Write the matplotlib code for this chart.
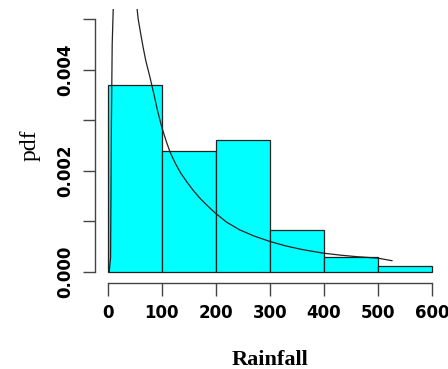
import matplotlib
matplotlib.use('Agg')
import matplotlib.pyplot as plt

# histogram bins (rainfall) and densities
bin_edges = [0, 100, 200, 300, 400, 500, 600]
densities = [0.00370, 0.00239, 0.00261, 0.00083, 0.00030, 0.00012]

# fitted pdf curve
curve_x = [2.4, 4.9, 6.5, 7.9, 9.8, 12,
           52, 56, 60, 65, 70, 77.8, 85, 92, 100, 108, 115, 125, 135, 146, 158, 170, 184, 198,
           220, 244, 270, 300, 330, 360, 398, 430, 460, 500, 526]
curve_y = [0.0, 0.00028, 0.0030, 0.0045, 0.0052, 0.0060,
           0.0054, 0.0050, 0.00475, 0.00445, 0.00418, 0.00385, 0.00352, 0.00318, 0.00285,
           0.00258, 0.00237, 0.00214, 0.00195, 0.00178, 0.00161, 0.00146, 0.00131, 0.00117,
           0.00098, 0.00083, 0.00071, 0.00060, 0.00051, 0.00044, 0.00037, 0.00033, 0.00030,
           0.00027, 0.00022]

x_ticks = [0, 100, 200, 300, 400, 500, 600]
y_ticks = [0.000, 0.001, 0.002, 0.003, 0.004, 0.005]
y_labels = ['0.000', '', '0.002', '', '0.004', '']

fig = plt.figure(figsize=(4.48, 3.69), dpi=100)
ax = fig.add_axes([0.212, 0.236, 0.781, 0.740])

widths = [bin_edges[i + 1] - bin_edges[i] for i in range(len(densities))]
ax.bar(bin_edges[:-1], densities, width=widths, align='edge',
       color='#00ffff', edgecolor='#222222', linewidth=0.9)
ax.plot(curve_x, curve_y, color='#222222', linewidth=0.9)

ax.set_xlim(-24, 624)
ax.set_ylim(-0.0002, 0.0052)

for s in ['top', 'right']:
    ax.spines[s].set_visible(False)
ax.spines['left'].set_bounds(0, 0.005)
ax.spines['bottom'].set_bounds(0, 600)
ax.spines['bottom'].set_position(('outward', 1))
for s in ['left', 'bottom']:
    ax.spines[s].set_color('#444444')
    ax.spines[s].set_linewidth(1.0)

ax.set_xticks(x_ticks)
ax.set_xticklabels([str(v) for v in x_ticks], fontsize=12, fontweight='bold')
ax.set_yticks(y_ticks)
ax.set_yticklabels(y_labels, fontsize=12, fontweight='bold', rotation=90, va='center')
ax.tick_params(axis='both', length=9, width=1.0, color='#444444', pad=6)

ax.set_xlabel('Rainfall', fontsize=16, fontweight='bold', family='Liberation Serif', labelpad=20)
ax.set_ylabel('pdf', fontsize=17, family='Liberation Serif', labelpad=11)

plt.savefig('out.png', dpi=100)
